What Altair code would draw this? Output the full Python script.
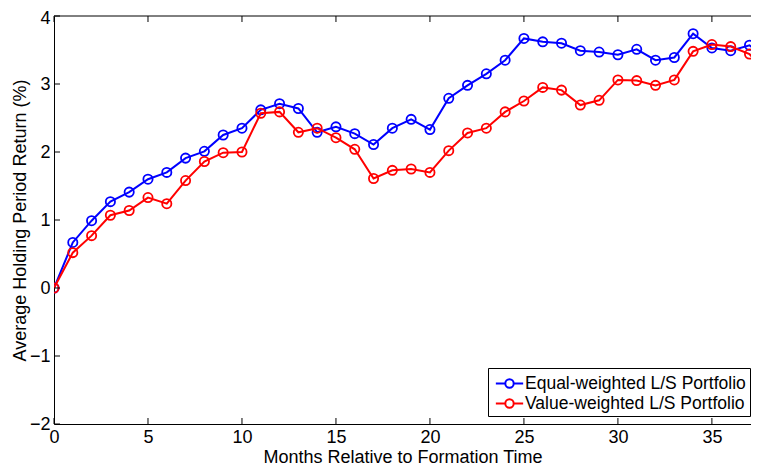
import altair as alt
import pandas as pd

months = list(range(39))
equal_weighted = [0.00, 0.67, 0.99, 1.27, 1.41, 1.60, 1.70, 1.91, 2.01, 2.25,
                  2.35, 2.62, 2.71, 2.64, 2.29, 2.37, 2.27, 2.11, 2.35, 2.48,
                  2.33, 2.79, 2.98, 3.15, 3.35, 3.67, 3.62, 3.60, 3.49, 3.47,
                  3.43, 3.51, 3.35, 3.39, 3.74, 3.53, 3.49, 3.57, 3.33]
value_weighted = [0.00, 0.52, 0.77, 1.07, 1.14, 1.33, 1.24, 1.58, 1.86, 1.99,
                  2.00, 2.57, 2.59, 2.29, 2.35, 2.21, 2.04, 1.61, 1.73, 1.75,
                  1.70, 2.02, 2.28, 2.35, 2.59, 2.75, 2.95, 2.91, 2.69, 2.76,
                  3.06, 3.05, 2.98, 3.06, 3.48, 3.58, 3.55, 3.44, 3.13]
series_names = ["Equal-weighted L/S Portfolio", "Value-weighted L/S Portfolio"]
series_colors = ["#0000ff", "#ff0000"]
x_ticks = [0, 5, 10, 15, 20, 25, 30, 35]
y_ticks = [-2, -1, 0, 1, 2, 3, 4]

W, H = 697, 408
FONT = "Liberation Sans"

df = pd.DataFrame({
    "month": months + months,
    "ret": equal_weighted + value_weighted,
    "series": [series_names[0]] * len(months) + [series_names[1]] * len(months),
})
xt = pd.DataFrame({"month": x_ticks})
yt = pd.DataFrame({"ret": y_ticks})
one = pd.DataFrame({"a": [0]})

legend_path = ("M-1.3,0L-0.4,0M0.4,0L1.3,0"
               "M0.4,0A0.4,0.4,0,1,1,-0.4,0A0.4,0.4,0,1,1,0.4,0")

xscale = alt.Scale(domain=[0, 37.08], nice=False, zero=False)
yscale = alt.Scale(domain=[-2, 4], nice=False, zero=False)

x = alt.X("month:Q", scale=xscale,
          axis=alt.Axis(values=x_ticks, title="Months Relative to Formation Time",
                        ticks=False, grid=False, labelPadding=4, titlePadding=2,
                        labelFlush=False))
y = alt.Y("ret:Q", scale=yscale,
          axis=alt.Axis(values=y_ticks, title="Average Holding Period Return (%)",
                        ticks=False, grid=False, labelPadding=4,
                        labelOffset={"condition": {"test": "datum.value == 4", "value": 2},
                                     "value": 0},
                        titleX=-34, titleY=H / 2, titleBaseline="middle",
                        titleAlign="center"))
color = alt.Color("series:N",
                  scale=alt.Scale(domain=series_names, range=series_colors),
                  legend=alt.Legend(title=None, orient="none", legendX=434, legendY=352,
                                    symbolType=legend_path, symbolSize=441,
                                    symbolStrokeWidth=2, symbolFillColor="transparent",
                                    symbolOffset=6,
                                    labelFontSize=17.5, labelFont=FONT, labelColor="black",
                                    strokeColor="black", fillColor="white",
                                    padding=4, rowPadding=0, labelOffset=4,
                                    labelLimit=400, cornerRadius=0))

base = alt.Chart(df).encode(x=x, y=y, color=color)
line_kw = dict(strokeWidth=2, clip=True,
               point=alt.OverlayMarkDef(filled=False, size=85, strokeWidth=1.8, clip=True))
blue = base.transform_filter(alt.datum.series == series_names[0]).mark_line(**line_kw)
red = base.transform_filter(alt.datum.series == series_names[1]).mark_line(**line_kw)

tick_len = 6
bottom_ticks = alt.Chart(xt).mark_rule(color="black", strokeWidth=1).encode(
    x=x, y=alt.value(H), y2=alt.value(H - tick_len))
top_ticks = alt.Chart(xt).mark_rule(color="black", strokeWidth=1).encode(
    x=x, y=alt.value(0), y2=alt.value(tick_len))
left_ticks = alt.Chart(yt).mark_rule(color="black", strokeWidth=1).encode(
    y=y, x=alt.value(0), x2=alt.value(tick_len))
top_border = alt.Chart(one).mark_rule(color="black", strokeWidth=1).encode(
    x=alt.value(0), x2=alt.value(W), y=alt.value(0))

chart = alt.layer(blue, red, bottom_ticks, top_ticks, left_ticks, top_border).properties(
    width=W, height=H,
    padding={"left": 46, "top": 8, "right": 0, "bottom": 42},
    autosize=alt.AutoSizeParams(type="none"),
).configure_view(stroke=None).configure_axis(
    domainColor="black", domainWidth=1, labelColor="black", titleColor="black",
    labelFont=FONT, titleFont=FONT, labelFontSize=18, titleFontSize=18,
    titleFontWeight="normal",
)

chart.save("out.html", embed_options={"renderer": "svg", "actions": False})
